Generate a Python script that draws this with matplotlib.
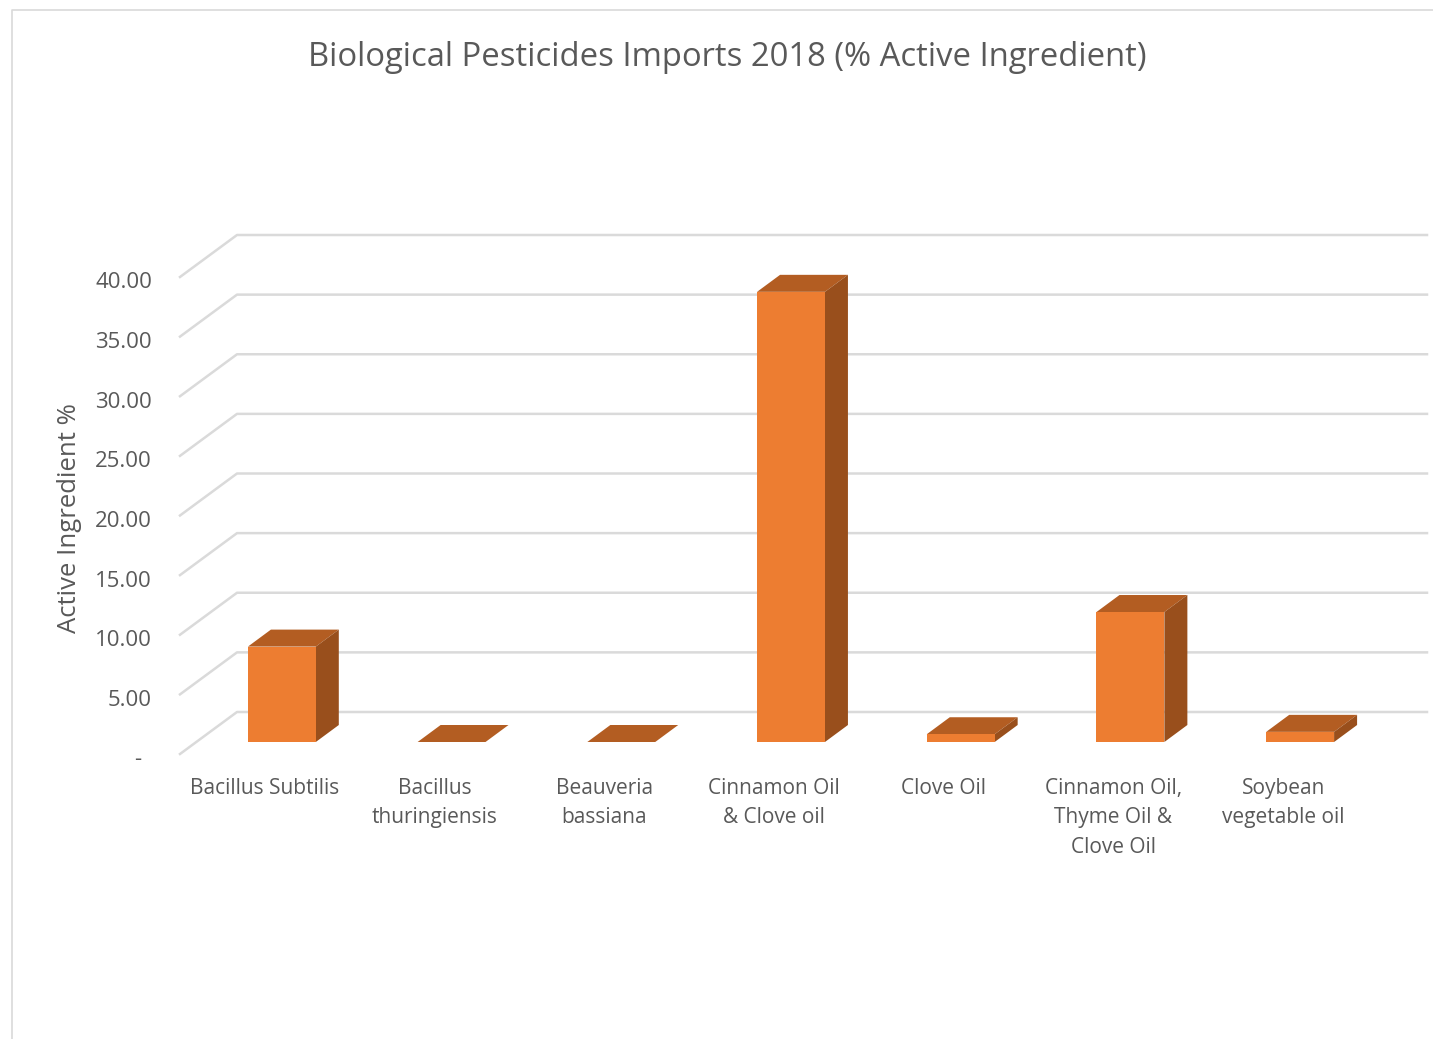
import matplotlib
matplotlib.use("Agg")
import matplotlib.pyplot as plt
from matplotlib.patches import Polygon
from matplotlib.transforms import IdentityTransform

categories = ["Bacillus Subtilis", "Bacillus\nthuringiensis", "Beauveria\nbassiana",
              "Cinnamon Oil\n& Clove oil", "Clove Oil",
              "Cinnamon Oil,\nThyme Oil &\nClove Oil", "Soybean\nvegetable oil"]
values = [8.0, 0.0, 0.0, 37.75, 0.65, 10.9, 0.85]
ticks = [0, 5, 10, 15, 20, 25, 30, 35, 40]
tick_labels = ["-", "5.00", "10.00", "15.00", "20.00", "25.00", "30.00", "35.00", "40.00"]
title = "Biological Pesticides Imports 2018 (% Active Ingredient)"
ylabel = "Active Ingredient %"

W, H = 1433, 1039
FONT = "Open Sans"
TXT = "#595959"
GRID = "#dadada"
FRONT, TOP, SIDE = "#ed7d31", "#b35d22", "#994f1c"

fig = plt.figure(figsize=(W / 100, H / 100), dpi=100, facecolor="white")
# axes = back wall of the chart
ax = fig.add_axes([237 / W, (H - 712) / H, 1188 / W, 477 / H])
ax.set_xlim(-0.5, 6.5)
ax.set_ylim(0, 40)
ax.axis("off")
fig.canvas.draw()

T = ax.transData
WALL = (-57, -42)      # back wall -> front edge of floor (pixels)
BAR = (-40, -30)       # back wall -> front face of bars
DEPTH = (23, 17)       # bar depth
BW = 68 / 170          # bar width in category units


def pt(x, y, off=(0, 0)):
    px, py = T.transform((x, y))
    return (px + off[0], py + off[1])


def poly(pts, color, z):
    fig.add_artist(Polygon(pts, closed=True, facecolor=color, edgecolor="none",
                           transform=IdentityTransform(), zorder=z))


for t in ticks:
    a, b, c = pt(-0.5, t, WALL), pt(-0.5, t), pt(6.5, t, (2, 0))
    fig.add_artist(plt.Line2D([a[0], b[0], c[0]], [a[1], b[1], c[1]], color=GRID, lw=1.8,
                              transform=IdentityTransform(), zorder=1))

for i, v in enumerate(values):
    l, r = i - BW / 2, i + BW / 2
    bk = (BAR[0] + DEPTH[0], BAR[1] + DEPTH[1])
    poly([pt(l, v, BAR), pt(r, v, BAR), pt(r, v, bk), pt(l, v, bk)], TOP, 3)
    poly([pt(r, 0, BAR), pt(r, v, BAR), pt(r, v, bk), pt(r, 0, bk)], SIDE, 3)
    poly([pt(l, 0, BAR), pt(r, 0, BAR), pt(r, v, BAR), pt(l, v, BAR)], FRONT, 4)

for t, lab in zip(ticks, tick_labels):
    x, y = pt(-0.5, t, WALL)
    x_off = 39 if lab == "-" else 28
    fig.text((x - x_off) / W, (y - 6) / H, lab, ha="right", va="center", fontsize=16,
             color=TXT, family=FONT)

for i, c in enumerate(categories):
    x, _ = pt(i, 0, WALL)
    fig.text(x / W, (H - 778) / H, c, ha="center", va="top", fontsize=15, color=TXT,
             family=FONT, linespacing=1.53)

fig.text(69 / W, (H - 518) / H, ylabel, rotation=90, ha="center", va="center", fontsize=18.5,
         color=TXT, family=FONT)
fig.text(727 / W, (H - 57) / H, title, ha="center", va="center", fontsize=23.6, color=TXT,
         family=FONT)

# chart frame
fig.add_artist(plt.Line2D([12 / W, 12 / W, 1], [0, (H - 10) / H, (H - 10) / H], color="#d9d9d9",
                          lw=1.2, transform=fig.transFigure, zorder=1))

fig.savefig("out.png", dpi=100)
